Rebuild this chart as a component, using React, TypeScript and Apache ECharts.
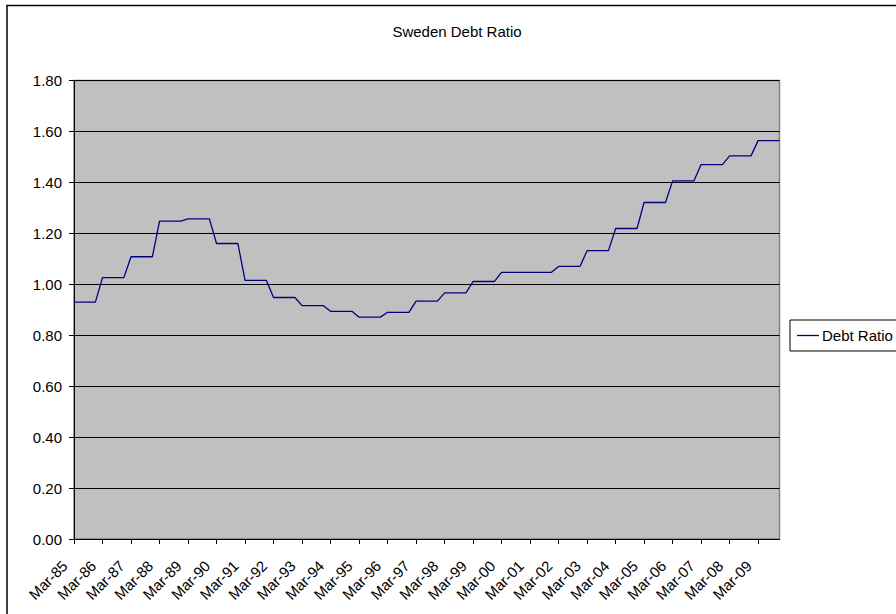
import React, { useEffect, useRef } from "react";
import * as echarts from "echarts";

const FONT = "'Liberation Sans', Arial, sans-serif";

const years: string[] = [
  "85", "86", "87", "88", "89", "90", "91", "92", "93", "94", "95", "96", "97",
  "98", "99", "00", "01", "02", "03", "04", "05", "06", "07", "08", "09",
];
const quarters: string[] = ["Mar", "Jun", "Sep", "Dec"];

// quarterly observations, Mar-85 .. Dec-09
const debtRatio: number[] = [
  0.930, 0.930, 0.930, 0.930, // 1985
  1.026, 1.026, 1.026, 1.026, // 1986
  1.108, 1.108, 1.108, 1.108, // 1987
  1.248, 1.248, 1.248, 1.248, // 1988
  1.257, 1.257, 1.257, 1.257, // 1989
  1.160, 1.160, 1.160, 1.160, // 1990
  1.015, 1.015, 1.015, 1.015, // 1991
  0.948, 0.948, 0.948, 0.948, // 1992
  0.916, 0.916, 0.916, 0.916, // 1993
  0.894, 0.894, 0.894, 0.894, // 1994
  0.871, 0.871, 0.871, 0.871, // 1995
  0.890, 0.890, 0.890, 0.890, // 1996
  0.934, 0.934, 0.934, 0.934, // 1997
  0.966, 0.966, 0.966, 0.966, // 1998
  1.011, 1.011, 1.011, 1.011, // 1999
  1.047, 1.047, 1.047, 1.047, // 2000
  1.047, 1.047, 1.047, 1.047, // 2001
  1.070, 1.070, 1.070, 1.070, // 2002
  1.132, 1.132, 1.132, 1.132, // 2003
  1.219, 1.219, 1.219, 1.219, // 2004
  1.321, 1.321, 1.321, 1.321, // 2005
  1.406, 1.406, 1.406, 1.406, // 2006
  1.470, 1.470, 1.470, 1.470, // 2007
  1.504, 1.504, 1.504, 1.504, // 2008
  1.564, 1.564, 1.564, 1.564, // 2009
];

const categories: string[] = [];
years.forEach((y) => quarters.forEach((q) => categories.push(`${q}-${y}`)));

export default function App() {
  const ref = useRef<HTMLDivElement>(null);

  useEffect(() => {
    if (!ref.current) return;
    const chart = echarts.init(ref.current, undefined, { renderer: "svg" });
    chart.setOption({
      animation: false,
      backgroundColor: "#ffffff",
      textStyle: { fontFamily: FONT },
      graphic: [
        {
          type: "rect",
          shape: { x: 7, y: 5.5, width: 1000, height: 1000 },
          style: { fill: "none", stroke: "#000", lineWidth: 1.5 },
          silent: true,
        },
        {
          type: "text",
          x: 457,
          y: 31,
          style: {
            text: "Sweden Debt Ratio",
            fontFamily: FONT,
            fontSize: 15,
            fill: "#000",
            textAlign: "center",
            textVerticalAlign: "middle",
          },
        },
      ],
      legend: {
        left: 790,
        top: 320,
        orient: "vertical",
        padding: [8, 10, 8, 7],
        icon: "rect",
        itemWidth: 22,
        itemHeight: 1.3,
        borderColor: "#000",
        borderWidth: 1,
        borderRadius: 0,
        backgroundColor: "#fff",
        textStyle: { fontFamily: FONT, fontSize: 15, color: "#000", padding: [0, 0, 0, -2] },
        data: ["Debt Ratio"],
      },
      grid: {
        left: 74,
        top: 80.5,
        right: 116.5,
        bottom: 75,
        show: true,
        backgroundColor: "#C0C0C0",
        borderColor: "#808080",
        borderWidth: 1.5,
      },
      xAxis: {
        type: "category",
        data: categories,
        boundaryGap: false,
        axisLine: { lineStyle: { color: "#000", width: 1 } },
        axisTick: {
          show: true,
          length: 5,
          interval: (i: number) => i % 4 === 0,
          lineStyle: { color: "#000" },
        },
        axisLabel: {
          interval: (i: number) => i % 4 === 0,
          rotate: 45,
          margin: 15,
          padding: [0, 13, 0, 0],
          fontFamily: FONT,
          fontSize: 15,
          color: "#000",
        },
        splitLine: { show: false },
      },
      yAxis: {
        type: "value",
        min: 0,
        max: 1.8,
        interval: 0.2,
        axisLine: { show: true, lineStyle: { color: "#000", width: 1 } },
        axisTick: { show: true, length: 5, lineStyle: { color: "#000" } },
        axisLabel: {
          margin: 12,
          fontFamily: FONT,
          fontSize: 15,
          color: "#000",
          formatter: (v: number) => v.toFixed(2),
        },
        splitLine: { show: true, lineStyle: { color: "#000", width: 1 } },
      },
      series: [
        {
          name: "Debt Ratio",
          type: "line",
          data: debtRatio,
          symbol: "none",
          lineStyle: { color: "#000080", width: 1.3 },
          itemStyle: { color: "#000080" },
        },
      ],
    });
    return () => chart.dispose();
  }, []);

  return (
    <div
      ref={ref}
      style={{ position: "fixed", left: 0, top: 0, width: 896, height: 614 }}
    />
  );
}
